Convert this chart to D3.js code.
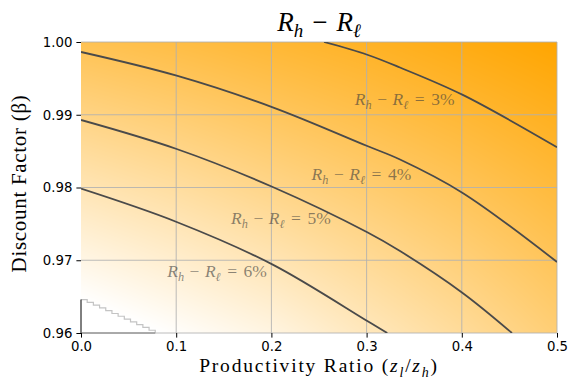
<!DOCTYPE html>
<html>
<head>
<meta charset="utf-8">
<script src="https://cdn.jsdelivr.net/npm/d3@7"></script>
<style>
body { margin: 0; background: #fff; }
svg { display: block; }
.tick text { font-family: "DejaVu Sans", sans-serif; font-size: 13.3px; fill: #000; }
.serif { font-family: "Liberation Serif", "DejaVu Serif", serif; }
</style>
</head>
<body>
<div id="vis"></div>
<script>
const GRID_X = [0, 0.1, 0.2, 0.3, 0.4, 0.5];
const GRID_Y = [0.96, 0.97, 0.98, 0.99, 1.00];
const SPREAD = [
  [8.07, 7.50, 6.94, 6.14, 5.40, 4.59],   // beta 0.96
  [7.04, 6.52, 5.97, 5.33, 4.68, 3.98],   // beta 0.97
  [5.98, 5.53, 5.01, 4.50, 3.95, 3.35],   // beta 0.98
  [4.92, 4.53, 4.10, 3.67, 3.21, 2.72],   // beta 0.99
  [3.85, 3.54, 3.19, 2.86, 2.46, 2.07]    // beta 1.00
];

// contour lines [ratio, beta]
const LINE_3 = [[0.2553, 1.0], [0.3007, 0.99825], [0.3351, 0.99649], [0.4005, 0.99276], [0.5, 0.98553]];
const LINE_4 = [[0, 0.99863], [0.1005, 0.99537], [0.2014, 0.99102], [0.3007, 0.9857],
                [0.3351, 0.98385], [0.4005, 0.97929], [0.5, 0.96976]];
const LINE_5 = [[0, 0.98928], [0.1005, 0.98529], [0.2014, 0.98007], [0.3007, 0.97385],
                [0.3351, 0.97127], [0.4005, 0.96554], [0.4527, 0.96]];
const LINE_6 = [[0, 0.97984], [0.1005, 0.97526], [0.2014, 0.9694], [0.3007, 0.96165],
                [0.3217, 0.96]];
const LEVELS = [3, 4, 5, 6];
const LINES = [LINE_3, LINE_4, LINE_5, LINE_6];
// label anchor (centre, baseline)
const LABEL_X = [0.340, 0.2946, 0.210, 0.1429];
const LABEL_Y = [0.99134, 0.98103, 0.97498, 0.96763];

// edge of the filled area, bottom left
const STAIR_X = [0, 0.0065, 0.013, 0.0195, 0.026, 0.0325, 0.039, 0.0455, 0.052, 0.0585, 0.065, 0.0715, 0.078];
const STAIR_Y = [0.9646, 0.96422, 0.96383, 0.96345, 0.96307, 0.96268, 0.9623, 0.96192, 0.96153, 0.96115, 0.96077, 0.96038, 0.96];

const X_TICKS = [0, 0.1, 0.2, 0.3, 0.4, 0.5];
const Y_TICKS = [0.96, 0.97, 0.98, 0.99, 1.00];

const WIDTH = 573;
const HEIGHT = 381;
const MARG = {left: 81, right: 16, top: 42, bottom: 48};
const VIS_WIDTH = WIDTH - MARG.left - MARG.right;
const VIS_HEIGHT = HEIGHT - MARG.top - MARG.bottom;

const X_SCALE = d3.scaleLinear().domain([0, 0.5]).range([0, VIS_WIDTH]);
const Y_SCALE = d3.scaleLinear().domain([0.96, 1.00]).range([VIS_HEIGHT, 0]);
const V_MAX = 7.6;   // white end of the colour map
const COLOR = d3.scaleLinear().domain([V_MAX, 2.05]).range(["#ffffff", "#ffa500"]).clamp(true);

const svg = d3.select("#vis").append("svg")
    .attr("width", WIDTH)
    .attr("height", HEIGHT);
svg.append("rect").attr("width", WIDTH).attr("height", HEIGHT).attr("fill", "#fff");

const g = svg.append("g").attr("transform", "translate(" + MARG.left + "," + MARG.top + ")");

// bilinear look-up in the read grid
function spreadAt(x, y) {
  let i = Math.min(Math.max(d3.bisectRight(GRID_X, x) - 1, 0), GRID_X.length - 2);
  let j = Math.min(Math.max(d3.bisectRight(GRID_Y, y) - 1, 0), GRID_Y.length - 2);
  let tx = (x - GRID_X[i]) / (GRID_X[i + 1] - GRID_X[i]);
  let ty = (y - GRID_Y[j]) / (GRID_Y[j + 1] - GRID_Y[j]);
  let a = SPREAD[j][i] * (1 - tx) + SPREAD[j][i + 1] * tx;
  let b = SPREAD[j + 1][i] * (1 - tx) + SPREAD[j + 1][i + 1] * tx;
  return a * (1 - ty) + b * ty;
}

// colour field painted on a canvas, then put in the svg
const canvas = document.createElement("canvas");
canvas.width = VIS_WIDTH;
canvas.height = VIS_HEIGHT;
const ctx = canvas.getContext("2d");
const img = ctx.createImageData(VIS_WIDTH, VIS_HEIGHT);
for (let py = 0; py < VIS_HEIGHT; py++) {
  for (let px = 0; px < VIS_WIDTH; px++) {
    let v = spreadAt(X_SCALE.invert(px + 0.5), Y_SCALE.invert(py + 0.5));
    let c = d3.rgb(COLOR(v));
    let k = (py * VIS_WIDTH + px) * 4;
    img.data[k] = c.r; img.data[k + 1] = c.g; img.data[k + 2] = c.b;
    img.data[k + 3] = 255;
  }
}
ctx.putImageData(img, 0, 0);
g.append("image")
    .attr("href", canvas.toDataURL())
    .attr("width", VIS_WIDTH)
    .attr("height", VIS_HEIGHT)
    .attr("preserveAspectRatio", "none");

// white (unfilled) corner
const stairPts = STAIR_X.map((x, i) => [x, STAIR_Y[i]]);
g.append("path")
    .attr("d", d3.line().x(d => X_SCALE(d[0])).y(d => Y_SCALE(d[1])).curve(d3.curveStepAfter)(
        stairPts.concat([[0, 0.96]])))
    .attr("fill", "#fff");

// grid
g.selectAll(".gx").data(X_TICKS.slice(1)).enter().append("line")
    .attr("x1", d => X_SCALE(d)).attr("x2", d => X_SCALE(d))
    .attr("y1", 0).attr("y2", VIS_HEIGHT)
    .attr("stroke", "#b0b0b0").attr("stroke-opacity", 0.85).attr("stroke-width", 1);
g.selectAll(".gy").data(Y_TICKS).enter().append("line")
    .attr("x1", 0).attr("x2", VIS_WIDTH)
    .attr("y1", d => Y_SCALE(d)).attr("y2", d => Y_SCALE(d))
    .attr("stroke", "#b0b0b0").attr("stroke-opacity", 0.85).attr("stroke-width", 1);

// stair edge
g.append("path")
    .attr("d", d3.line().x(d => X_SCALE(d[0])).y(d => Y_SCALE(d[1])).curve(d3.curveStepAfter)(stairPts))
    .attr("fill", "none")
    .attr("stroke", "#c4c4c4")
    .attr("stroke-width", 1.2);

// spines only show in the white corner
g.append("line").attr("x1", 0).attr("x2", 0)
    .attr("y1", VIS_HEIGHT).attr("y2", Y_SCALE(STAIR_Y[0]))
    .attr("stroke", "#000").attr("stroke-width", 1);
g.append("line").attr("x1", 0).attr("x2", X_SCALE(STAIR_X[STAIR_X.length - 1]))
    .attr("y1", VIS_HEIGHT).attr("y2", VIS_HEIGHT)
    .attr("stroke", "#777").attr("stroke-width", 1);

// contour lines
const clip = svg.append("clipPath").attr("id", "plotclip");
clip.append("rect").attr("width", VIS_WIDTH).attr("height", VIS_HEIGHT);
const lineGen = d3.line().x(d => X_SCALE(d[0])).y(d => Y_SCALE(d[1])).curve(d3.curveCatmullRom.alpha(0.5));
g.append("g").attr("clip-path", "url(#plotclip)")
  .selectAll("path").data(LINES).enter().append("path")
    .attr("d", lineGen)
    .attr("fill", "none")
    .attr("stroke", "#4a4a4a")
    .attr("stroke-width", 1.8);

// R_h - R_l written out with tspans
function mathSpread(t, size, gapOp, tail, gapRel) {
  let sub = size * 0.7, drop = size * 0.22;
  t.append("tspan").attr("font-style", "italic").text("R");
  t.append("tspan").attr("font-style", "italic").attr("font-size", sub).attr("dy", drop).text("h");
  t.append("tspan").attr("dy", -drop).attr("dx", gapOp).text("\u2212");
  t.append("tspan").attr("font-style", "italic").attr("dx", gapOp).text("R");
  t.append("tspan").attr("font-style", "italic").attr("font-size", sub).attr("dy", drop).text("\u2113");
  if (tail) {
    t.append("tspan").attr("dy", -drop).attr("dx", gapRel).text("=");
    t.append("tspan").attr("dx", gapRel).text(tail);
  }
}

// contour labels
LEVELS.forEach((lv, i) => {
  let t = g.append("text")
      .attr("class", "serif")
      .attr("x", X_SCALE(LABEL_X[i]))
      .attr("y", Y_SCALE(LABEL_Y[i]))
      .attr("text-anchor", "middle")
      .attr("font-size", 17.5)
      .attr("fill", "#3c3c3c")
      .attr("fill-opacity", 0.6);
  mathSpread(t, 17.5, 5.5, lv + "%", 6.5);
});

// axes
g.append("g")
    .attr("transform", "translate(0," + VIS_HEIGHT + ")")
    .call(d3.axisBottom(X_SCALE).tickValues(X_TICKS).tickFormat(d3.format(".1f")).tickSize(4.6).tickPadding(4))
    .call(a => a.select(".domain").remove());
g.append("g")
    .call(d3.axisLeft(Y_SCALE).tickValues(Y_TICKS).tickFormat(d3.format(".2f")).tickSize(4.6).tickPadding(4))
    .call(a => a.select(".domain").remove());

// title
const title = svg.append("text")
    .attr("class", "serif")
    .attr("x", MARG.left + VIS_WIDTH / 2)
    .attr("y", 31)
    .attr("text-anchor", "middle")
    .attr("font-size", 27);
mathSpread(title, 27, 9, null, 0);

// x label
const xl = svg.append("text")
    .attr("class", "serif")
    .attr("x", MARG.left + VIS_WIDTH / 2)
    .attr("y", 372)
    .attr("text-anchor", "middle")
    .attr("font-size", 19.5)
    .attr("letter-spacing", 1.8);
xl.append("tspan").text("Productivity Ratio (");
xl.append("tspan").attr("font-style", "italic").text("z");
xl.append("tspan").attr("font-style", "italic").attr("font-size", 14).attr("dy", 4.5).text("l");
xl.append("tspan").attr("dy", -4.5).text("/");
xl.append("tspan").attr("font-style", "italic").text("z");
xl.append("tspan").attr("font-style", "italic").attr("font-size", 14).attr("dy", 4.5).text("h");
xl.append("tspan").attr("dy", -4.5).text(")");

// y label
svg.append("text")
    .attr("class", "serif")
    .attr("transform", "translate(26," + (MARG.top + VIS_HEIGHT / 2 - 4) + ") rotate(-90)")
    .attr("text-anchor", "middle")
    .attr("font-size", 21)
    .attr("letter-spacing", 0.7)
    .text("Discount Factor (\u03b2)");
</script>
</body>
</html>
